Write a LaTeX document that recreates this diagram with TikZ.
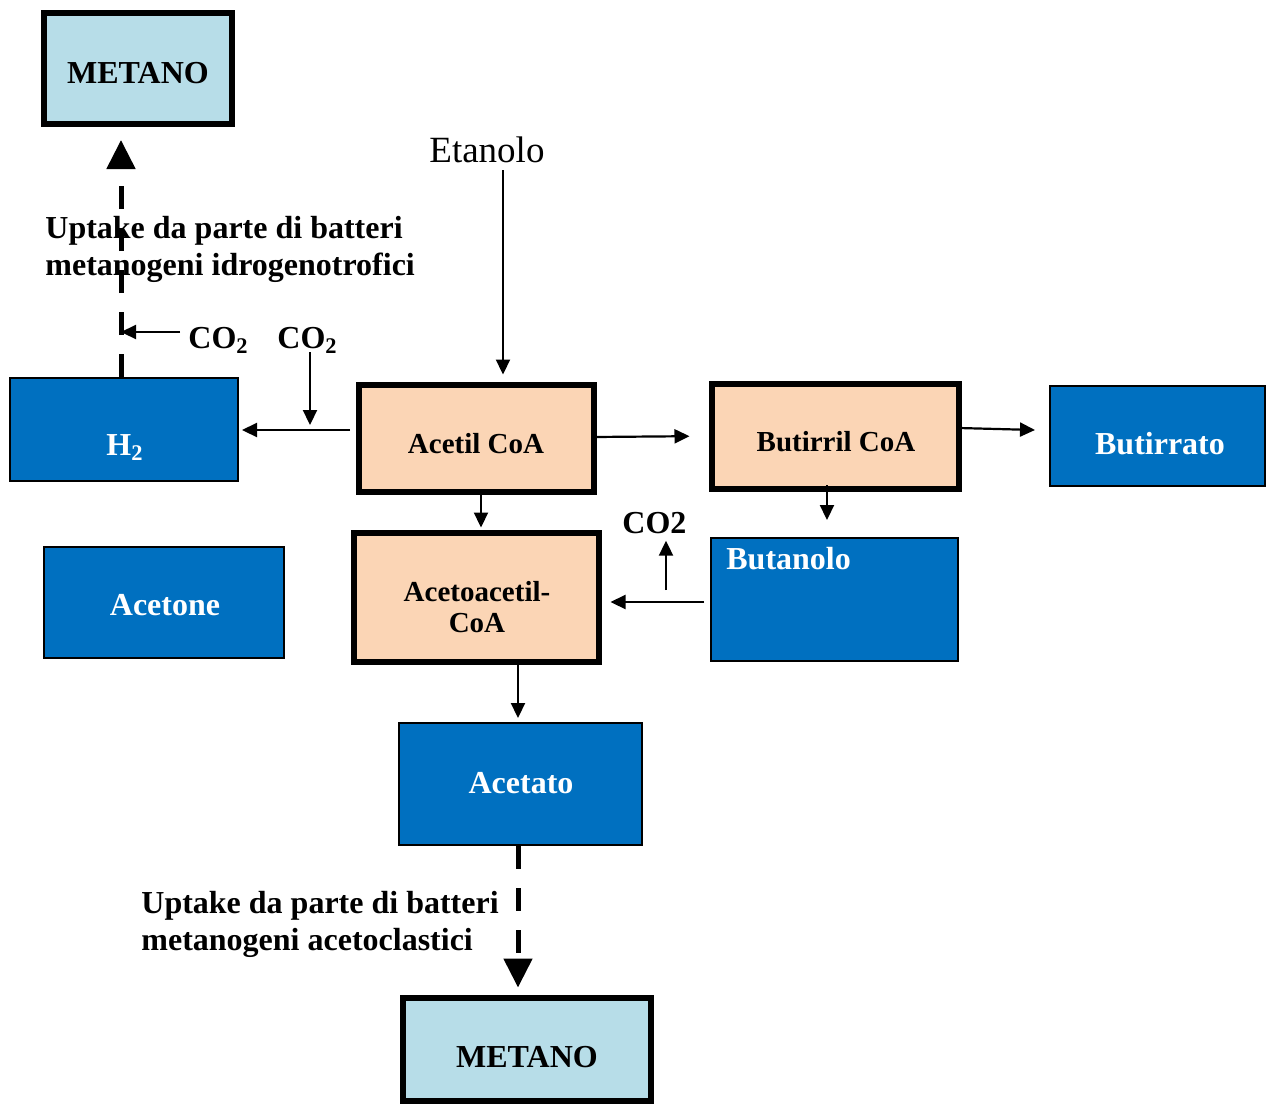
\documentclass[tikz,border=0pt]{standalone}
\usepackage{fontspec}
\setmainfont{Liberation Serif}
\usetikzlibrary{arrows.meta,calc}
\definecolor{boxblue}{HTML}{0070C0}
\definecolor{peach}{HTML}{FBD5B5}
\definecolor{lightblue}{HTML}{B7DDE8}
\tikzset{
  bluebox/.style={draw=black, line width=1pt, fill=boxblue, inner sep=0pt, outer sep=0pt},
  peachbox/.style={draw=black, line width=3pt, fill=peach, inner sep=0pt, outer sep=0pt},
  metbox/.style={draw=black, line width=3pt, fill=lightblue, inner sep=0pt, outer sep=0pt},
  wtxt/.style={text=white, font=\bfseries\fontsize{16}{18}\selectfont, inner sep=0pt},
  btxt/.style={text=black, font=\bfseries\fontsize{16}{18.5}\selectfont, inner sep=0pt},
  ptxt/.style={text=black, font=\bfseries\fontsize{14.5}{15.5}\selectfont, inner sep=0pt, align=center},
  arr/.style={line width=1.1pt, -{Triangle[length=7.5pt,width=7pt]}},
  darr/.style={line width=2.5pt, dash pattern=on 11.5pt off 9.5pt, -{Triangle[length=14.5pt,width=14pt]}},
}
\begin{document}
\begin{tikzpicture}[x=0.5pt,y=-0.5pt]
\fill[white] (0,0) rectangle (1266,1104);
\useasboundingbox (0,0) rectangle (1266,1104);

% boxes
\node[metbox, minimum width=94pt, minimum height=55.5pt] (mettop) at (138,68.5) {};
\node[bluebox, minimum width=114pt, minimum height=51.5pt] (h2) at (124,429.5) {};
\node[peachbox, minimum width=117.5pt, minimum height=53.5pt] (acetil) at (476.5,438.5) {};
\node[peachbox, minimum width=123.5pt, minimum height=52.5pt] (butirril) at (835.5,436.5) {};
\node[bluebox, minimum width=107.5pt, minimum height=50pt] (butirrato) at (1157.5,436) {};
\node[bluebox, minimum width=120pt, minimum height=55.5pt] (acetone) at (164,602.5) {};
\node[peachbox, minimum width=122.5pt, minimum height=64.5pt] (acetoac) at (476.5,597.5) {};
\node[bluebox, minimum width=123.5pt, minimum height=61.5pt] (butanolo) at (834.5,599.5) {};
\node[bluebox, minimum width=121.5pt, minimum height=61pt] (acetato) at (520.5,784) {};
\node[metbox, minimum width=124pt, minimum height=51.5pt] (metbot) at (527,1049.5) {};

% box texts
\node[btxt, anchor=base] (mettopT) at (138,83) {METANO};
\node[wtxt, anchor=base] (h2T) at (125,455) {H\textsubscript{2}};
\node[ptxt, anchor=base] (acetilT) at (476,453) {Acetil CoA};
\node[ptxt, anchor=base] (butirrilT) at (836,451) {Butirril CoA};
\node[wtxt, anchor=base] (butirratoT) at (1160,454) {Butirrato};
\node[wtxt, anchor=base] (acetoneT) at (165,615) {Acetone};
\node[ptxt, anchor=center] (acetoacT) at (477,607.5) {Acetoacetil-\\CoA};
\node[wtxt, anchor=base west] (butanoloT) at (726,569) {Butanolo};
\node[wtxt, anchor=base] (acetatoT) at (521,793) {Acetato};
\node[btxt, anchor=base] (metbotT) at (527,1067) {METANO};

% free labels
\node[inner sep=0pt, anchor=base west, font=\fontsize{18.5}{20}\selectfont] (etanolo) at (429,162) {Etanolo};
\node[btxt, anchor=west, align=left] (upt1) at (45,249) {Uptake da parte di batteri\\metanogeni idrogenotrofici};
\node[btxt, anchor=west, align=left] (upt2) at (141,924) {Uptake da parte di batteri\\metanogeni acetoclastici};
\node[btxt, anchor=base west] (co2a) at (188,348) {CO\textsubscript{2}};
\node[btxt, anchor=base west] (co2b) at (277,348) {CO\textsubscript{2}};
\node[btxt, anchor=base west] (co2c) at (622,533) {CO2};

% connector end points
\coordinate (eA) at (503,170);
\coordinate (a2h) at (350,430);
\coordinate (cb) at (310,352);
\coordinate (ca) at (180,332);
\coordinate (hd) at (121,377);
\coordinate (c2) at (666,590);
\coordinate (ad) at (518,846);

% connectors
\draw[arr, shorten >=5.25pt] (eA) -- (eA |- acetil.north);
\draw[arr, shorten >=2pt] (a2h) -- (a2h -| h2.east);
\draw[arr, shorten >=2.5pt] (cb) -- (cb |- a2h);
\draw[arr] (ca) -- (ca -| hd);
\draw[darr, shorten >=8pt] (hd) -- (hd |- mettop.south);
\draw[arr, shorten >=11.25pt] ($(acetil.east)+(0,-1.5)$) -- ($(butirril.west)+(0,-0.5)$);
\draw[arr] ($(butirril.east)+(0,-8.5)$) -- ($(butirrato.west)+(-15,-6)$);
\draw[arr] ($(butirril.south)+(-8.5,-4)$) -- ($(butanolo.north)+(-7.5,-18)$);
\draw[arr] ($(butanolo.west)+(-7,2.5)$) -- ($(acetoac.east)+(11.5,4.5)$);
\draw[arr, shorten >=3.5pt] (c2) -- (c2 |- co2c.south);
\draw[arr, shorten >=2.75pt] ($(acetil.south)+(4.5,3)$) -- ($(acetoac.north)+(4.5,0)$);
\draw[arr, shorten >=2.5pt] ($(acetoac.south)+(41.5,-2)$) -- ($(acetato.north)+(-2.5,0)$);
\draw[darr, shorten >=5.25pt] (ad) -- (ad |- metbot.north);
\end{tikzpicture}
\end{document}
